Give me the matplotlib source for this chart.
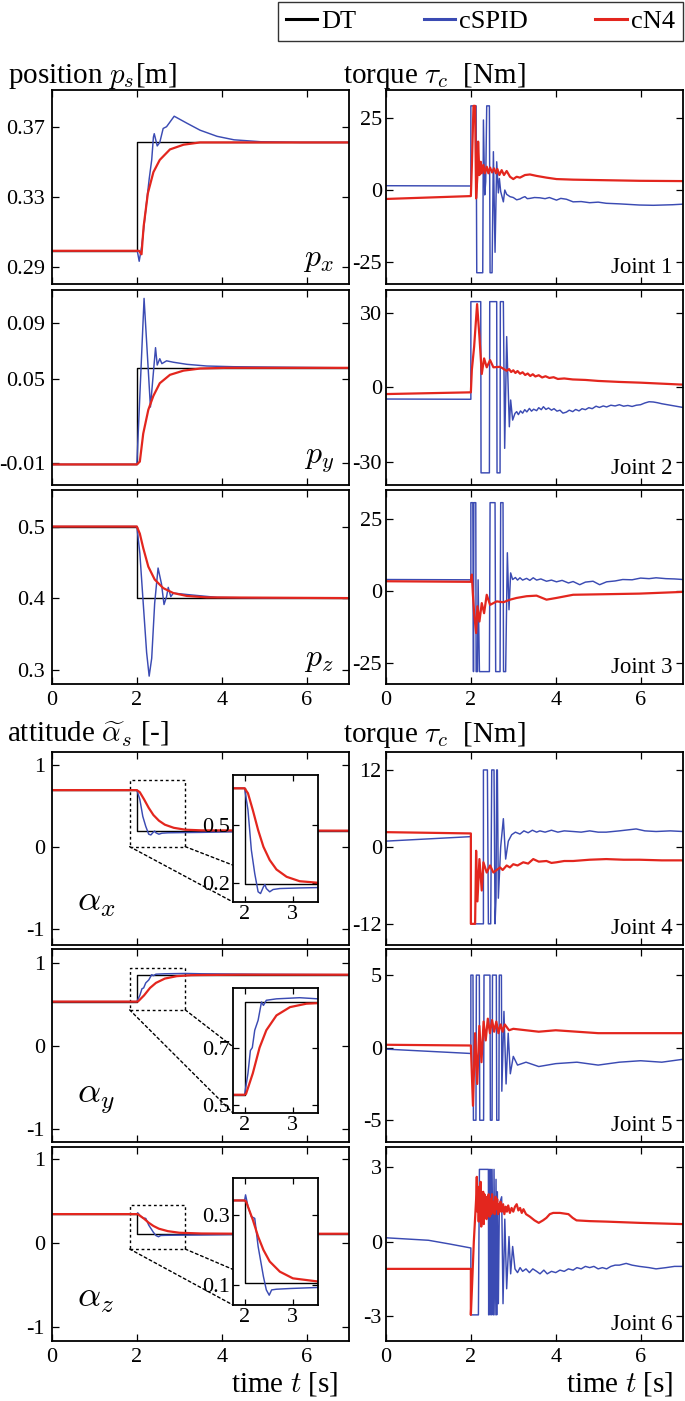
import matplotlib
matplotlib.use("Agg")
import matplotlib.pyplot as plt
from matplotlib.patches import Rectangle, ConnectionPatch

plt.rcParams['font.family'] = ['Liberation Serif', 'DejaVu Serif']
plt.rcParams['mathtext.fontset'] = 'cm'
plt.rcParams['axes.unicode_minus'] = False

# ---------------- data ----------------
dt_t = [0, 2, 2, 7]

# position p_s [m]
px_dt = [0.299, 0.299, 0.361, 0.361]
px_spid_t = [0, 2.0, 2.01, 2.055, 2.11, 2.15, 2.23, 2.29, 2.35, 2.39, 2.41, 2.48, 2.54,
             2.62, 2.70, 2.88, 3.18, 3.49, 3.89, 4.29, 4.92, 5.87, 7.0]
px_spid = [0.299, 0.299, 0.299, 0.293, 0.301, 0.309, 0.327, 0.340, 0.351, 0.364, 0.366, 0.359,
           0.361, 0.369, 0.370, 0.376, 0.372, 0.368, 0.3645, 0.3625, 0.3614, 0.361, 0.361]
px_cn4_t = [0, 2.05, 2.11, 2.16, 2.26, 2.39, 2.54, 2.78, 3.10, 3.49, 4.1, 7.0]
px_cn4 = [0.299, 0.299, 0.297, 0.313, 0.332, 0.344, 0.351, 0.357, 0.3597, 0.361, 0.361, 0.361]

py_dt = [-0.011, -0.011, 0.058, 0.058]
py_spid_t = [0, 2.0, 2.17, 2.32, 2.44, 2.48, 2.54, 2.59, 2.70, 2.86, 3.18, 3.65, 4.28, 7.0]
py_spid = [-0.011, -0.011, 0.1076, 0.030, 0.0724, 0.060, 0.0645, 0.061, 0.063, 0.062,
           0.0605, 0.0593, 0.0588, 0.058]
py_cn4_t = [0, 2.0, 2.07, 2.15, 2.27, 2.39, 2.54, 2.78, 3.10, 3.49, 4.1, 7.0]
py_cn4 = [-0.011, -0.011, -0.009, 0.011, 0.028, 0.038, 0.047, 0.053, 0.056, 0.0575, 0.058, 0.058]

pz_dt = [0.5, 0.5, 0.4, 0.4]
pz_spid_t = [0, 2.0, 2.07, 2.15, 2.23, 2.29, 2.35, 2.42, 2.50, 2.58, 2.64, 2.70, 2.74, 2.80,
             2.86, 3.18, 3.89, 5.0, 7.0]
pz_spid = [0.5, 0.5, 0.463, 0.393, 0.324, 0.291, 0.316, 0.393, 0.442, 0.42, 0.391, 0.402,
           0.415, 0.402, 0.407, 0.405, 0.401, 0.4, 0.4]
pz_cn4_t = [0, 2.0, 2.07, 2.15, 2.27, 2.42, 2.62, 2.86, 3.18, 3.65, 7.0]
pz_cn4 = [0.5, 0.5, 0.49, 0.470, 0.444, 0.426, 0.414, 0.407, 0.403, 0.401, 0.4]

# attitude alpha_s [-]
ax_dt = [0.69, 0.69, 0.195, 0.195]
ax_spid_t = [0, 2.0, 2.07, 2.14, 2.21, 2.28, 2.33, 2.39, 2.42, 2.45, 2.52, 2.59, 2.73, 3.14,
             3.52, 5.0, 7.0]
ax_spid = [0.69, 0.69, 0.577, 0.369, 0.247, 0.152, 0.143, 0.178, 0.19, 0.169, 0.152, 0.164,
           0.169, 0.172, 0.174, 0.19, 0.195]
ax_cn4_t = [0, 2.0, 2.07, 2.17, 2.28, 2.39, 2.52, 2.66, 2.87, 3.14, 3.52, 7.0]
ax_cn4 = [0.69, 0.69, 0.664, 0.577, 0.473, 0.386, 0.317, 0.268, 0.23, 0.207, 0.199, 0.195]

ay_dt = [0.535, 0.535, 0.86, 0.86]
ay_spid_t = [0, 2.0, 2.07, 2.12, 2.16, 2.21, 2.28, 2.35, 2.39, 2.45, 2.66, 3.14, 3.52, 5.0, 7.0]
ay_spid = [0.535, 0.535, 0.61, 0.69, 0.70, 0.761, 0.796, 0.86, 0.848, 0.866, 0.871, 0.875,
           0.871, 0.865, 0.86]
ay_cn4_t = [0, 2.0, 2.03, 2.17, 2.31, 2.45, 2.66, 2.94, 3.28, 3.52, 4.5, 7.0]
ay_cn4 = [0.535, 0.535, 0.538, 0.61, 0.70, 0.761, 0.813, 0.842, 0.854, 0.856, 0.86, 0.86]

az_dt = [0.341, 0.341, 0.107, 0.107]
az_spid_t = [0, 2.0, 2.02, 2.07, 2.14, 2.21, 2.28, 2.39, 2.45, 2.51, 2.56, 2.66, 2.94, 3.52,
             5.0, 7.0]
az_spid = [0.341, 0.341, 0.357, 0.324, 0.295, 0.29, 0.21, 0.124, 0.086, 0.071, 0.086, 0.088,
           0.09, 0.093, 0.103, 0.107]
az_cn4_t = [0, 2.0, 2.03, 2.17, 2.28, 2.39, 2.52, 2.73, 3.0, 3.52, 4.5, 7.0]
az_cn4 = [0.341, 0.341, 0.338, 0.286, 0.238, 0.2, 0.167, 0.138, 0.119, 0.11, 0.107, 0.107]

# torque tau_c [Nm]
j1_spid_t = [0, 2.0, 2.0, 2.124, 2.139, 2.28, 2.296, 2.327, 2.35, 2.374, 2.437, 2.453, 2.5,
             2.531, 2.57, 2.609, 2.648, 2.672, 2.703, 2.766, 2.80, 2.844, 2.923, 3.0, 3.08,
             3.157, 3.22, 3.275, 3.33, 3.392, 3.5, 3.627, 3.75, 3.85, 4.018, 4.12, 4.253, 4.41,
             4.6, 4.8, 5.0, 5.19, 5.5, 5.97, 6.3, 6.756, 7.0]
j1_spid = [1.5, 1.4, 29.2, 29.2, -28.7, -28.7, 24.3, -1.7, 2.9, 29.2, 29.2, -28.7, -28.7,
           13.3, -21.6, 9.8, -1.0, 4.0, -0.5, -4.1, 0.0, -1.5, -2.3, -2.6, -3.4, -3.1, -2.6,
           -2.3, -3.0, -2.9, -2.6, -2.7, -3.0, -2.6, -3.5, -2.9, -3.2, -4.1, -4.0, -4.4, -4.2,
           -4.6, -4.8, -5.2, -5.3, -5.1, -4.9]
j1_cn4_t = [0, 2.0, 2.023, 2.062, 2.1, 2.124, 2.155, 2.171, 2.202, 2.233, 2.257, 2.296, 2.327,
            2.374, 2.413, 2.453, 2.5, 2.546, 2.593, 2.625, 2.672, 2.726, 2.781, 2.844, 2.923,
            3.0, 3.079, 3.157, 3.275, 3.392, 3.548, 3.783, 4.018, 4.41, 5.19, 5.97, 7.0]
j1_cn4 = [-3.1, -2.1, 8.1, 29.2, 29.2, -2.9, 5.2, 16.8, 5.2, 9.8, 5.8, 8.7, 5.8, 8.1, 5.8,
          7.8, 6.1, 7.5, 5.8, 7.3, 5.2, 6.9, 5.2, 6.6, 4.6, 3.8, 4.6, 4.3, 5.2, 5.4, 4.9, 4.3,
          3.8, 3.6, 3.4, 3.2, 3.1]

j2_spid_t = [0, 2.0, 2.0, 2.233, 2.24, 2.437, 2.445, 2.609, 2.617, 2.688, 2.695, 2.766, 2.797,
             2.844, 2.907, 2.938, 2.985, 3.04, 3.08, 3.12, 3.17, 3.22, 3.27, 3.32, 3.38, 3.43,
             3.48, 3.55, 3.6, 3.66, 3.71, 3.77, 3.83, 3.9, 3.96, 4.03, 4.1, 4.17, 4.25, 4.32,
             4.4, 4.47, 4.55, 4.62, 4.7, 4.78, 4.86, 4.95, 5.03, 5.12, 5.2, 5.3, 5.4, 5.5, 5.6,
             5.7, 5.8, 5.9, 6.0, 6.1, 6.2, 6.3, 6.4, 6.5, 6.6, 6.7, 6.8, 6.9, 7.0]
j2_spid = [-4.7, -4.8, 34.6, 34.6, -34.5, -34.5, 34.6, 34.6, -34.5, -34.5, 34.6, 34.6, -24.6,
           20.5, -15.9, -5.1, -13.2, -10.5, -9.8, -11.0, -9.5, -10.4, -9.0, -9.9, -8.5, -9.6,
           -8.8, -9.4, -8.2, -9.0, -7.8, -8.9, -8.3, -9.2, -8.6, -9.6, -9.2, -10.4, -10.0,
           -9.2, -9.8, -8.9, -9.5, -8.6, -9.0, -8.2, -8.6, -7.6, -8.1, -7.5, -7.9, -7.2, -7.5,
           -7.0, -7.6, -7.3, -7.7, -7.2, -7.0, -6.3, -5.8, -5.9, -6.2, -6.6, -6.9, -7.2, -7.5,
           -7.8, -8.1]
j2_cn4_t = [0, 2.0, 2.023, 2.077, 2.147, 2.202, 2.257, 2.312, 2.374, 2.453, 2.531, 2.688,
            2.844, 2.9, 2.95, 3.0, 3.05, 3.1, 3.16, 3.22, 3.28, 3.34, 3.4, 3.46, 3.52, 3.6,
            3.68, 3.76, 3.85, 3.95, 4.05, 4.2, 4.4, 4.7, 5.0, 5.5, 6.0, 6.5, 7.0]
j2_cn4 = [-2.7, -2.0, 7.0, 16.4, 33.6, 20.5, 5.4, 11.7, 8.1, 11.0, 8.1, 8.3, 6.7, 7.4, 6.2,
          6.9, 5.8, 6.6, 5.5, 6.1, 5.0, 5.6, 4.6, 5.3, 4.4, 4.9, 4.0, 4.5, 3.8, 4.1, 3.4, 3.6,
          3.2, 3.0, 2.6, 2.2, 1.9, 1.5, 1.1]

j3_spid_t = [0, 2.0, 2.0, 2.046, 2.062, 2.07, 2.116, 2.124, 2.155, 2.171, 2.202, 2.437,
             2.453, 2.57, 2.585, 2.688, 2.703, 2.758, 2.77, 2.82, 2.86, 2.899, 2.938, 2.985,
             3.05, 3.1, 3.157, 3.22, 3.314, 3.39, 3.47, 3.55, 3.65, 3.783, 3.9, 4.018, 4.15,
             4.3, 4.41, 4.566, 4.7, 4.88, 5.035, 5.2, 5.4, 5.58, 5.8, 6.0, 6.2, 6.365, 6.6,
             6.8, 7.0]
j3_spid = [4.1, 4.0, 30.8, 30.8, -27.9, 30.8, 30.8, -27.9, -27.9, 4.0, -27.9, -27.9, 30.8,
           30.8, -27.9, -27.9, 30.8, 30.8, -27.9, -27.9, 13.4, -6.4, 6.4, 4.1, 4.8, 3.9, 4.7,
           3.9, 4.5, 3.8, 4.7, 3.9, 4.3, 3.5, 3.9, 3.3, 3.8, 2.9, 3.4, 2.3, 3.2, 3.5, 2.3, 3.3,
           3.6, 4.1, 4.0, 4.6, 4.4, 4.7, 4.4, 4.3, 4.1]
j3_cn4_t = [0, 2.0, 2.023, 2.046, 2.077, 2.124, 2.155, 2.202, 2.257, 2.312, 2.374, 2.453,
            2.609, 2.766, 2.923, 3.079, 3.314, 3.548, 3.783, 4.018, 4.41, 5.19, 5.97, 7.0]
j3_cn4 = [3.5, 3.3, 5.8, -0.6, -7.6, -14.5, -5.2, -10.5, -4.1, -7.6, -1.2, -4.7, -3.5, -3.8,
          -2.9, -2.3, -1.7, -1.5, -2.9, -2.3, -1.2, -1.0, -0.8, -0.2]

j4_spid_t = [0, 2.0, 2.0, 2.296, 2.296, 2.39, 2.413, 2.468, 2.492, 2.546, 2.57, 2.593, 2.609,
             2.625, 2.648, 2.703, 2.766, 2.82, 2.883, 2.962, 3.05, 3.157, 3.25, 3.35, 3.45,
             3.55, 3.627, 3.75, 3.9, 4.05, 4.2, 4.41, 4.6, 4.8, 5.0, 5.19, 5.5, 5.896, 6.1,
             6.365, 6.7, 7.0]
j4_spid = [0.9, 1.6, -12.0, -12.0, 12.0, 12.0, -12.0, -12.0, 12.0, 12.0, -12.0, -8.0, 12.0,
           12.0, -8.0, 0.0, 4.4, -1.9, 0.9, 1.9, 2.3, 2.0, 2.5, 2.2, 2.6, 2.3, 2.5, 2.3, 2.6,
           2.3, 2.5, 2.4, 2.3, 2.5, 2.3, 2.3, 2.5, 2.8, 2.5, 2.4, 2.5, 2.4]
j4_cn4_t = [0, 2.0, 2.0, 2.1, 2.124, 2.155, 2.202, 2.257, 2.296, 2.374, 2.453, 2.531, 2.688,
            2.75, 2.844, 2.92, 3.0, 3.1, 3.235, 3.35, 3.47, 3.6, 3.783, 3.9, 4.018, 4.2, 4.41,
            4.8, 5.19, 5.6, 5.97, 6.5, 7.0]
j4_cn4 = [2.3, 2.1, -12.0, -12.0, -0.6, -8.5, -1.9, -6.8, -2.4, -4.0, -2.9, -4.0, -3.2, -3.6,
          -2.9, -3.2, -2.7, -2.9, -2.4, -2.6, -1.9, -2.3, -2.2, -2.5, -2.4, -2.2, -2.2, -2.0,
          -1.9, -2.0, -2.0, -2.1, -2.1]

j5_spid_t = [0, 2.0, 2.0, 2.05, 2.06, 2.12, 2.13, 2.2, 2.21, 2.3, 2.31, 2.45, 2.46, 2.5, 2.51,
             2.6, 2.61, 2.66, 2.67, 2.72, 2.73, 2.78, 2.83, 2.88, 2.93, 3.0, 3.1, 3.3, 3.6,
             4.0, 4.5, 5.0, 5.5, 6.0, 6.5, 7.0]
j5_spid = [-0.1, -0.4, 5.0, 5.0, -5.0, -5.0, 5.0, 5.0, -5.0, -5.0, 5.0, 5.0, -5.0, -5.0, 5.0,
           5.0, -5.0, -5.0, 5.0, 5.0, -3.0, 2.5, -2.5, 1.0, -1.8, -0.6, -1.2, -1.0, -1.3,
           -1.1, -1.0, -1.2, -1.0, -0.9, -1.0, -0.8]
j5_cn4_t = [0, 2.0, 2.05, 2.1, 2.15, 2.2, 2.25, 2.3, 2.35, 2.4, 2.45, 2.5, 2.55, 2.6, 2.65,
            2.7, 2.75, 2.8, 2.9, 3.0, 3.3, 3.6, 4.0, 5.0, 6.0, 7.0]
j5_cn4 = [0.2, 0.15, -4.0, 1.0, -2.5, 1.5, -1.0, 1.8, 0.5, 2.0, 1.0, 1.9, 1.1, 1.8, 1.0,
          1.6, 1.1, 1.6, 1.2, 1.3, 1.2, 1.1, 1.2, 1.0, 1.0, 1.0]

j6_spid_t = [0, 0.5, 1.0, 1.5, 2.0, 2.0, 2.178, 2.202, 2.413, 2.42, 2.437, 2.453, 2.468,
             2.492, 2.5, 2.531, 2.546, 2.57, 2.593, 2.609, 2.625, 2.648, 2.672, 2.726, 2.758,
             2.80, 2.844, 2.899, 2.938, 2.985, 3.04, 3.1, 3.16, 3.22, 3.3, 3.38, 3.46, 3.55,
             3.63, 3.72, 3.8, 3.9, 4.0, 4.1, 4.2, 4.3, 4.41, 4.5, 4.6, 4.7, 4.8, 4.9, 5.0,
             5.1, 5.2, 5.3, 5.4, 5.5, 5.66, 5.8, 5.97, 6.2, 6.365, 6.6, 6.8, 7.0]
j6_spid = [0.15, 0.1, 0.05, -0.1, -0.26, -2.95, -2.95, 2.9, 2.9, -2.95, 2.9, -2.95, 2.9,
           -2.95, 2.9, -2.95, 2.9, -2.95, 2.5, -2.95, 2.0, -2.5, 1.5, 1.8, -2.5, 0.9, -1.9,
           0.2, -1.3, -0.2, -1.1, -1.25, -1.05, -1.2, -1.1, -1.25, -1.1, -1.2, -1.3, -1.15,
           -1.3, -1.2, -1.25, -1.15, -1.2, -1.1, -1.15, -1.05, -1.1, -1.0, -1.05, -1.0, -1.1,
           -1.05, -1.1, -1.0, -0.95, -0.95, -0.88, -0.95, -1.0, -1.05, -1.1, -1.05, -1.0, -1.0]
j6_cn4_t = [0, 2.0, 2.0, 2.023, 2.07, 2.124, 2.14, 2.155, 2.17, 2.185, 2.2, 2.215, 2.23,
            2.245, 2.26, 2.275, 2.29, 2.305, 2.32, 2.335, 2.35, 2.37, 2.385, 2.4, 2.42, 2.44,
            2.46, 2.48, 2.5, 2.52, 2.54, 2.56, 2.58, 2.6, 2.62, 2.64, 2.66, 2.68, 2.7, 2.73,
            2.76, 2.79, 2.82, 2.85, 2.88, 2.92, 2.96, 3.0, 3.04, 3.08, 3.12, 3.16, 3.2, 3.24,
            3.3, 3.39, 3.5, 3.6, 3.7, 3.78, 3.86, 3.94, 4.1, 4.3, 4.4, 4.49, 4.8, 5.19, 5.97,
            7.0]
j6_cn4 = [-1.1, -1.1, -2.95, -2.0, 0.0, 1.7, 2.6, 1.2, 2.2, 0.8, 2.1, 1.0, 2.4, 0.6, 1.8,
          0.9, 2.0, 0.7, 1.9, 1.1, 1.7, 0.9, 1.8, 1.2, 1.9, 1.0, 1.7, 1.1, 1.9, 1.2, 1.6, 1.1,
          1.8, 1.3, 1.7, 1.1, 1.5, 1.2, 1.6, 1.2, 1.5, 1.1, 1.4, 1.2, 1.45, 1.15, 1.35, 1.2,
          1.4, 1.5, 1.25, 1.35, 1.15, 1.3, 1.1, 1.0, 0.85, 0.75, 0.85, 0.95, 1.1, 1.15, 1.15,
          1.1, 0.95, 0.85, 0.82, 0.8, 0.75, 0.7]

BLUE = '#3b4bb3'
RED = '#e3261e'

W, H = 685, 1401
fig = plt.figure(figsize=(W / 100, H / 100), dpi=100)


def box(x0, y0, x1, y1):
    # pixel box (top-left origin) -> figure fraction
    return [x0 / W, 1 - y1 / H, (x1 - x0) / W, (y1 - y0) / H]


rows = [(90, 284), (290, 485), (490, 684), (752, 945), (949, 1142), (1147, 1341)]


def style(a, yt, ylim, show_x, fs=16):
    a.set_xlim(0, 7)
    a.set_ylim(*ylim)
    a.set_xticks([0, 2, 4, 6])
    a.set_yticks(yt)
    a.tick_params(direction='in', top=True, right=True, length=5, width=0.9,
                  labelsize=fs, pad=5)
    if not show_x:
        a.tick_params(labelbottom=False)
    for s in a.spines.values():
        s.set_linewidth(1.3)


def lines(a, t_s, s, t_n, n, t_d=None, d=None):
    h = []
    if d is not None:
        h += a.plot(t_d, d, color='black', lw=1.0, label='DT')
    h += a.plot(t_s, s, color=BLUE, lw=1.05, label='cSPID')
    h += a.plot(t_n, n, color=RED, lw=1.6, label='cN4')
    return h


# left column: position and attitude
left = [
    (px_spid_t, px_spid, px_cn4_t, px_cn4, px_dt, [0.29, 0.33, 0.37], (0.28, 0.391), r'$p_x$'),
    (py_spid_t, py_spid, py_cn4_t, py_cn4, py_dt, [-0.01, 0.05, 0.09], (-0.0257, 0.1136), r'$p_y$'),
    (pz_spid_t, pz_spid, pz_cn4_t, pz_cn4, pz_dt, [0.3, 0.4, 0.5], (0.28, 0.551), r'$p_z$'),
    (ax_spid_t, ax_spid, ax_cn4_t, ax_cn4, ax_dt, [-1, 0, 1], (-1.2, 1.155), r'$\alpha_x$'),
    (ay_spid_t, ay_spid, ay_cn4_t, ay_cn4, ay_dt, [-1, 0, 1], (-1.16, 1.17), r'$\alpha_y$'),
    (az_spid_t, az_spid, az_cn4_t, az_cn4, az_dt, [-1, 0, 1], (-1.17, 1.14), r'$\alpha_z$'),
]

# inset settings for attitude rows: ylim, yticks, pixel box, zoom rectangle, connector frac
insets = {
    3: ((0.099, 0.759), [0.2, 0.5], (233, 775, 318, 902), (1.83, 0.0, 3.14, 0.81), 0.29),
    4: ((0.471, 0.909), [0.5, 0.7], (233, 988, 318, 1113), (1.83, 0.435, 3.14, 0.94), 0.53),
    5: ((0.043, 0.405), [0.1, 0.3], (233, 1178, 318, 1305), (1.83, -0.075, 3.14, 0.449), 0.28),
}

handles = None
for i, (ts, s, tn, n, d, yt, yl, lab) in enumerate(left):
    top, bot = rows[i]
    a = fig.add_axes(box(52, top, 349, bot))
    h = lines(a, ts, s, tn, n, dt_t, d)
    if handles is None:
        handles = h
    style(a, yt, yl, show_x=(i in (2, 5)))
    a.set_yticklabels([('%g' % v) for v in yt])
    if i < 3:
        a.text(0.95, 0.05, lab, transform=a.transAxes, ha='right', va='bottom', fontsize=23)
    else:
        a.text(0.085, 0.22, lab, transform=a.transAxes, ha='left', va='center', fontsize=26)
        ylim_in, yt_in, pb, rect, frac = insets[i]
        ia = fig.add_axes(box(*pb))
        ia.set_zorder(5)
        ia.set_facecolor('white')
        lines(ia, ts, s, tn, n, dt_t, d)
        ia.set_xlim(1.76, 3.52)
        ia.set_ylim(*ylim_in)
        ia.set_xticks([2, 3])
        ia.set_yticks(yt_in)
        ia.set_yticklabels([('%g' % v) for v in yt_in])
        ia.tick_params(direction='in', top=True, right=True, length=4, width=0.9,
                       labelsize=16, pad=2)
        for sp in ia.spines.values():
            sp.set_linewidth(1.3)
        x0, y0, x1, y1 = rect
        a.add_patch(Rectangle((x0, y0), x1 - x0, y1 - y0, fill=False, ls=(0, (2, 2)),
                              lw=1.0, color='black'))
        for (xa, fy) in ((x0, 0.0), (x1, frac)):
            cp = ConnectionPatch(xyA=(xa, y0), coordsA=a.transData, xyB=(0, fy),
                                 coordsB=ia.transAxes, ls=(0, (2, 2)), lw=1.0, color='black')
            fig.add_artist(cp)

# right column: torques
right = [
    (j1_spid_t, j1_spid, j1_cn4_t, j1_cn4, [-25, 0, 25], (-32.6, 34.7)),
    (j2_spid_t, j2_spid, j2_cn4_t, j2_cn4, [-30, 0, 30], (-39.4, 39.3)),
    (j3_spid_t, j3_spid, j3_cn4_t, j3_cn4, [-25, 0, 25], (-32.2, 35.2)),
    (j4_spid_t, j4_spid, j4_cn4_t, j4_cn4, [-12, 0, 12], (-15.3, 14.8)),
    (j5_spid_t, j5_spid, j5_cn4_t, j5_cn4, [-5, 0, 5], (-6.5, 6.8)),
    (j6_spid_t, j6_spid, j6_cn4_t, j6_cn4, [-3, 0, 3], (-4.0, 3.8)),
]
for i, (ts, s, tn, n, yt, yl) in enumerate(right):
    top, bot = rows[i]
    a = fig.add_axes(box(386, top, 683, bot))
    lines(a, ts, s, tn, n)
    style(a, yt, yl, show_x=(i in (2, 5)))
    a.tick_params(axis='y', pad=3)
    a.text(0.965, 0.055, 'Joint %d' % (i + 1), transform=a.transAxes, ha='right',
           va='baseline', fontsize=16.5)

# titles and axis labels
tfs = 21
fig.text(8 / W, 1 - 83 / H, r'position $p_s$[m]', fontsize=tfs, va='baseline')
fig.text(343 / W, 1 - 83 / H, r'torque $\tau_c$  [Nm]', fontsize=tfs, va='baseline')
fig.text(7 / W, 1 - 742 / H, r'attitude $\widetilde{\alpha}_s$ [-]', fontsize=tfs, va='baseline')
fig.text(343 / W, 1 - 742 / H, r'torque $\tau_c$  [Nm]', fontsize=tfs, va='baseline')
fig.text(338 / W, 1 - 1392 / H, r'time $t$ [s]', fontsize=tfs, va='baseline', ha='right')
fig.text(673 / W, 1 - 1392 / H, r'time $t$ [s]', fontsize=tfs, va='baseline', ha='right')

leg = fig.legend(handles=handles, labels=['DT', 'cSPID', 'cN4'], loc='upper right',
                 bbox_to_anchor=(683 / W, 1 - 2 / H), ncol=3, fontsize=19, frameon=True,
                 fancybox=False, edgecolor='black', handlelength=1.2, handletextpad=0.15,
                 columnspacing=2.55, borderpad=0.3, borderaxespad=0)
leg.get_frame().set_linewidth(1.0)
for ln in leg.get_lines():
    ln.set_linewidth(2.2)

fig.savefig('out.png', dpi=100)
